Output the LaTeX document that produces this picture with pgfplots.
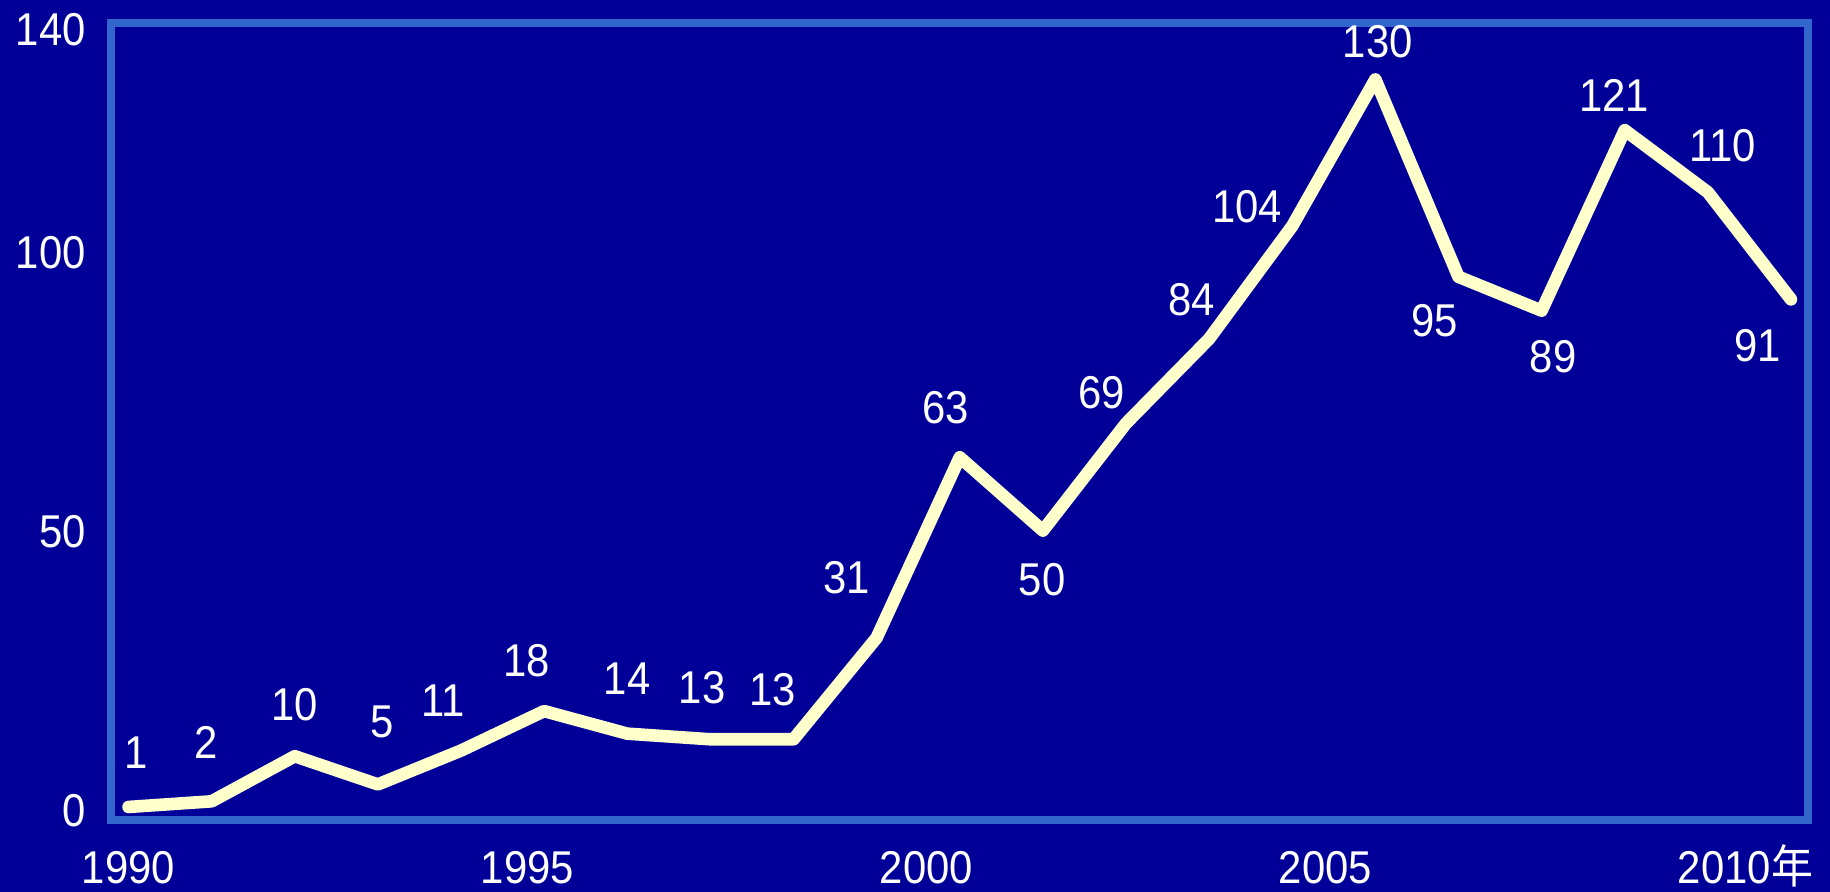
\documentclass[border=0pt]{standalone}
\usepackage{fontspec}
\setmainfont[FakeStretch=0.91]{Liberation Sans}
\newfontfamily\cjk[FakeStretch=0.91]{Noto Sans CJK SC}
\usepackage{pgfplots}
\pgfplotsset{compat=1.18}
\usepackage{pgfplotstable}
\definecolor{bgblue}{RGB}{0,0,153}
\definecolor{framecol}{RGB}{51,102,204}
\definecolor{linecol}{RGB}{255,255,204}

\pgfplotstableread{
year value
1990 1
1991 2
1992 10
1993 5
1994 11
1995 18
1996 14
1997 13
1998 13
1999 31
2000 63
2001 50
2002 69
2003 84
2004 104
2005 130
2006 95
2007 89
2008 121
2009 110
2010 91
}\datatable

\pgfplotstableread{
x y label
1990.09 10.56 1
1990.93 12.51 2
1992.00 19.07 10
1993.05 16.06 5
1993.78 19.78 11
1994.79 26.87 18
1996.00 23.68 14
1996.90 22.08 13
1997.75 21.73 13
1998.64 41.57 31
1999.83 71.88 63
2000.99 41.22 50
2001.71 74.53 69
2002.79 91.02 84
2003.46 107.50 104
2005.03 136.74 130
2005.71 87.29 95
2007.14 80.91 89
2007.87 127.17 121
2009.18 118.31 110
2009.60 82.86 91
}\labeltable

\begin{document}
\begin{tikzpicture}
\fill[bgblue] (-55.5bp,-36bp) rectangle (859.5bp,410bp);
\begin{axis}[
  at={(0,0)}, anchor=south west,
  scale only axis,
  width=848.5bp, height=398.5bp,
  xmin=1989.789, xmax=2010.205,
  ymin=-1.31, ymax=140,
  clip=false,
  axis line style={draw=framecol, line width=4bp, line cap=rect},
  major tick length=0pt,
  tick style={draw=none},
  xtick={1990,1994.8,1999.6,2004.4,2009.2},
  xticklabels={1990,1995,2000,2005,{2010\rlap{\cjk 年}}},
  ytick={0.28,49.8,99.2,138.8},
  yticklabels={0,50,100,140},
  tick label style={font=\fontsize{23bp}{27bp}\selectfont, text=white, inner sep=0pt},
  xticklabel style={anchor=base, yshift=-31.5bp},
  yticklabel style={anchor=east, xshift=-12.5bp},
]
\addplot[linecol, line width=6.3bp, line join=round, line cap=round, mark=none]
  table[x=year, y=value] {\datatable};
\addplot[draw=none, mark=none, nodes near coords, point meta=explicit symbolic,
  nodes near coords style={anchor=center, inner sep=0pt, text=white,
    font=\fontsize{23bp}{27bp}\selectfont}]
  table[x=x, y=y, meta=label] {\labeltable};
\end{axis}
\pgfresetboundingbox
\path[use as bounding box] (-55.5bp,-36bp) rectangle (859.5bp,410bp);
\end{tikzpicture}
\end{document}
